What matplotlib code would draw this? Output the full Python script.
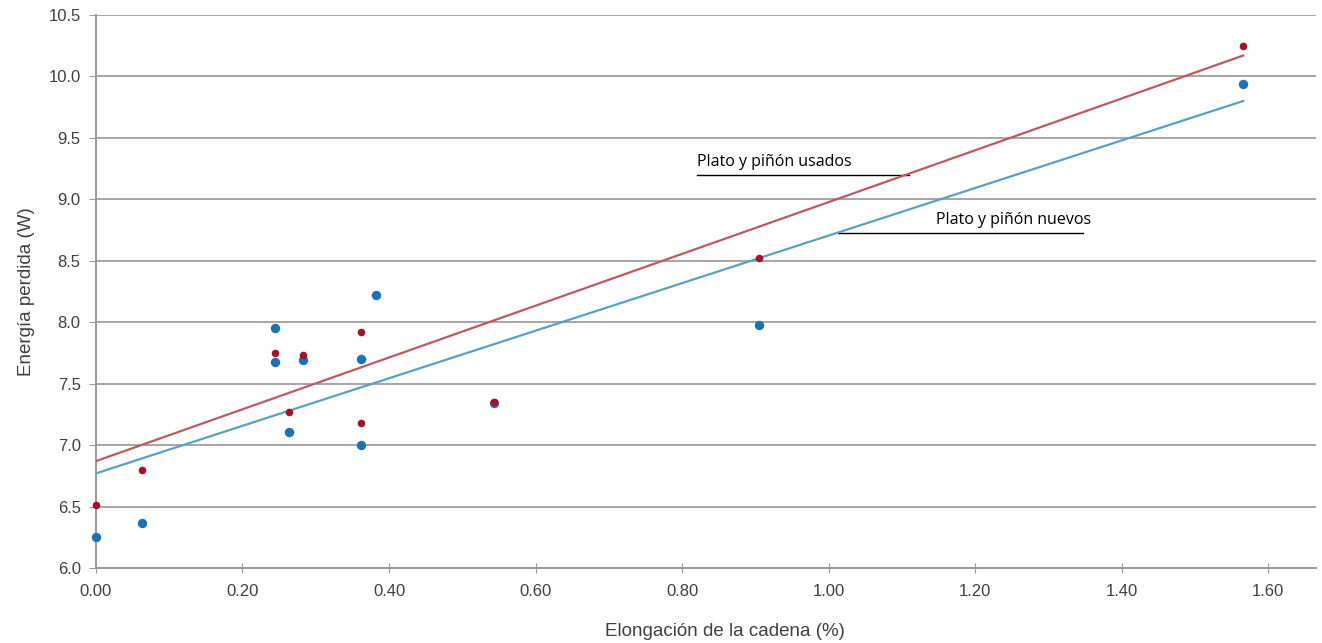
import numpy as np
import matplotlib.pyplot as plt

# ==== DATOS ====
elong_usados = [0.0, 0.063, 0.244, 0.263, 0.282, 0.362, 0.362, 0.543, 0.905, 1.566]
energia_usados = [6.51, 6.80, 7.75, 7.27, 7.73, 7.92, 7.18, 7.35, 8.52, 10.25]

elong_nuevos = [0.0, 0.063, 0.244, 0.244, 0.263, 0.282, 0.362, 0.362, 0.382, 0.543, 0.905, 1.566]
energia_nuevos = [6.25, 6.37, 7.95, 7.68, 7.11, 7.69, 7.70, 7.00, 8.22, 7.34, 7.98, 9.94]

# lineas de tendencia (extremos)
tend_x = [0.0, 1.566]
tend_usados = [6.87, 10.17]
tend_nuevos = [6.77, 9.80]

xticks = [0.0, 0.2, 0.4, 0.6, 0.8, 1.0, 1.2, 1.4, 1.6]
yticks = [6.0, 6.5, 7.0, 7.5, 8.0, 8.5, 9.0, 9.5, 10.0, 10.5]

ROJO_PUNTO = '#a8102a'
AZUL_PUNTO = '#1a72b8'
ROJO_LINEA = '#bd5a5a'
AZUL_LINEA = '#55a3c4'
GRIS_TEXTO = '#404040'

plt.rcParams['font.family'] = ['Liberation Sans', 'DejaVu Sans']

fig = plt.figure(figsize=(13.22, 6.43), dpi=100)
ax = fig.add_axes([0.0726, 0.1166, 0.9229, 0.8601])

ax.plot(tend_x, tend_usados, color=ROJO_LINEA, lw=1.6, zorder=3)
ax.plot(tend_x, tend_nuevos, color=AZUL_LINEA, lw=1.6, zorder=3)
ax.scatter(elong_nuevos, energia_nuevos, s=46, color=AZUL_PUNTO, zorder=4,
           linewidths=0, clip_on=False)
ax.scatter(elong_usados, energia_usados, s=30, color=ROJO_PUNTO, zorder=5,
           linewidths=0, clip_on=False)

ax.set_xlim(0, 1.6655)
ax.set_ylim(6.0, 10.5)
ax.set_xticks(xticks)
ax.set_xticklabels([f'{v:.2f}' for v in xticks])
ax.set_yticks(yticks)
ax.set_yticklabels([f'{v:.1f}' for v in yticks])

ax.grid(axis='y', color='#a6a6a6', lw=1.4)
ax.set_axisbelow(True)
for lado in ['top', 'right']:
    ax.spines[lado].set_visible(False)
for lado in ['left', 'bottom']:
    ax.spines[lado].set_color('#9a9a9a')
    ax.spines[lado].set_linewidth(1.4)

ax.tick_params(axis='x', direction='inout', length=7, color='#9a9a9a',
               labelsize=12, labelcolor=GRIS_TEXTO, pad=8)
ax.tick_params(axis='y', direction='out', length=5, color='#9a9a9a',
               labelsize=12, labelcolor=GRIS_TEXTO, pad=6)

ax.set_xlabel('Elongación de la cadena (%)', fontsize=13.5, color=GRIS_TEXTO)
ax.xaxis.set_label_coords(0.5155, -0.1, transform=ax.transAxes)
ax.set_ylabel('Energía perdida (W)', fontsize=13.5, color=GRIS_TEXTO, labelpad=10)

# etiquetas de las lineas con subrayado
ax.text(0.82, 9.27, 'Plato y piñón usados', fontsize=11.5, color='black',
        family=['Open Sans', 'DejaVu Sans'])
ax.plot([0.82, 1.11], [9.2, 9.2], color='black', lw=1.0)
ax.text(1.147, 8.80, 'Plato y piñón nuevos', fontsize=11.5, color='black',
        family=['Open Sans', 'DejaVu Sans'])
ax.plot([1.013, 1.348], [8.73, 8.73], color='black', lw=1.0)

fig.savefig('out.png', dpi=100)
